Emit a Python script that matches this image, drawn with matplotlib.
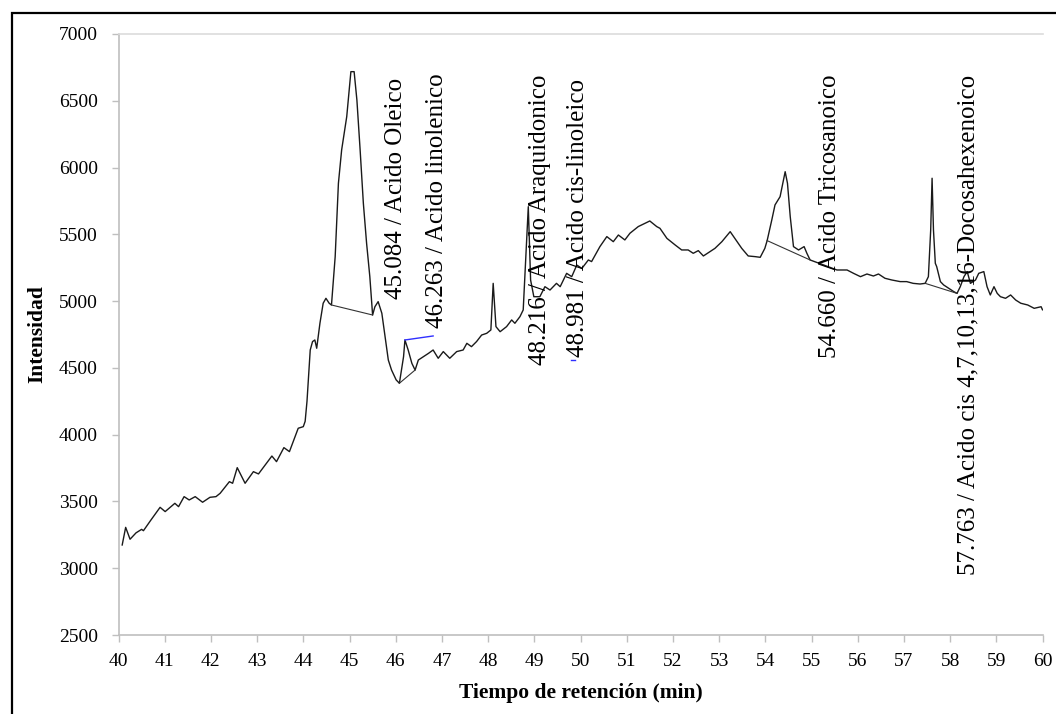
import matplotlib
matplotlib.use("Agg")
import matplotlib.pyplot as plt
from matplotlib.patches import Rectangle

plt.rcParams['font.family'] = ['Liberation Serif', 'DejaVu Serif']

# ---- data ----
time_min = [40.08, 40.155, 40.25, 40.38, 40.50, 40.54, 40.70, 40.90, 41.01, 41.22, 41.30, 41.42,
            41.53, 41.66, 41.82, 41.98, 42.11, 42.20, 42.40, 42.47, 42.57, 42.74, 42.92, 43.03,
            43.32, 43.42, 43.58, 43.70, 43.89, 44.00, 44.04, 44.08, 44.15, 44.20, 44.25, 44.29,
            44.36, 44.43, 44.49, 44.56, 44.61, 44.69, 44.76, 44.83, 44.90, 44.94, 45.03, 45.10,
            45.16, 45.23, 45.30, 45.37, 45.44, 45.50, 45.55, 45.62, 45.70, 45.77, 45.84, 45.91,
            46.01, 46.08, 46.17, 46.20, 46.27, 46.35, 46.42, 46.49, 46.60, 46.71, 46.81, 46.92,
            47.03, 47.17, 47.32, 47.46, 47.54, 47.64, 47.75, 47.86, 47.97, 48.06, 48.11, 48.17,
            48.26, 48.40, 48.51, 48.58, 48.69, 48.76, 48.87, 48.92, 48.99, 49.12, 49.23, 49.34,
            49.48, 49.56, 49.70, 49.81, 49.92, 50.03, 50.17, 50.24, 50.42, 50.57, 50.71, 50.82,
            50.96, 51.07, 51.25, 51.50, 51.65, 51.72, 51.87, 52.05, 52.19, 52.33, 52.44, 52.55,
            52.66, 52.80, 52.91, 53.06, 53.24, 53.34, 53.49, 53.63, 53.78, 53.89, 53.99, 54.04,
            54.14, 54.21, 54.32, 54.38, 54.43, 54.48, 54.54, 54.61, 54.72, 54.84, 54.90, 54.97,
            55.26, 55.55, 55.77, 55.91, 56.06, 56.20, 56.34, 56.45, 56.59, 56.74, 56.92, 57.06,
            57.20, 57.35, 57.46, 57.53, 57.58, 57.61, 57.64, 57.68, 57.71, 57.79, 57.86, 57.97,
            58.08, 58.15, 58.22, 58.30, 58.37, 58.44, 58.55, 58.62, 58.73, 58.80, 58.87, 58.95,
            59.02, 59.09, 59.20, 59.31, 59.42, 59.53, 59.68, 59.82, 59.97, 60.00]
intensity = [3174, 3306, 3217, 3265, 3291, 3281, 3360, 3456, 3424, 3486, 3461, 3536,
             3511, 3536, 3494, 3531, 3536, 3561, 3648, 3636, 3753, 3636, 3723, 3706,
             3840, 3798, 3903, 3873, 4048, 4060, 4100, 4250, 4634, 4697, 4709, 4647,
             4834, 4984, 5021, 4984, 4971, 5333, 5882, 6132, 6294, 6381, 6718, 6718,
             6506, 6132, 5732, 5433, 5183, 4896, 4958, 4996, 4909, 4734, 4559, 4484,
             4410, 4385, 4584, 4709, 4634, 4534, 4484, 4559, 4584, 4609, 4634, 4572,
             4622, 4572, 4622, 4634, 4684, 4659, 4697, 4746, 4759, 4784, 5133, 4809,
             4771, 4809, 4859, 4834, 4884, 4934, 5707, 5158, 5033, 5033, 5108, 5083,
             5133, 5108, 5208, 5183, 5270, 5245, 5308, 5296, 5408, 5483, 5445, 5495,
             5458, 5508, 5558, 5600, 5558, 5545, 5470, 5420, 5383, 5383, 5358, 5378,
             5338, 5370, 5395, 5445, 5520, 5470, 5395, 5338, 5333, 5328, 5395, 5453,
             5607, 5720, 5782, 5882, 5969, 5882, 5632, 5408, 5383, 5408, 5358, 5308,
             5271, 5233, 5233, 5208, 5183, 5203, 5188, 5203, 5171, 5158, 5146, 5146,
             5133, 5128, 5133, 5183, 5533, 5920, 5533, 5283, 5258, 5146, 5121, 5096,
             5071, 5058, 5108, 5183, 5221, 5133, 5158, 5208, 5221, 5108, 5046, 5108,
             5058, 5033, 5021, 5046, 5008, 4984, 4971, 4946, 4958, 4935]

# integration baselines (start/end time, start/end intensity)
baseline_t = [[44.61, 45.50], [46.08, 46.42], [54.04, 54.97], [57.46, 58.15]]
baseline_y = [[4971, 4896], [4385, 4484], [5453, 5308], [5133, 5058]]
blue_t = [[46.20, 46.81], [49.79, 49.88]]
blue_y = [[4709, 4739], [4560, 4560]]

peak_labels = ["45.084 / Acido Oleico",
               "46.263 / Acido linolenico",
               "48.216 / Acido Araquidonico",
               "48.981 / Acido cis-linoleico",
               "54.660 / Acido Tricosanoico",
               "57.763 / Acido cis 4,7,10,13,16-Docosahexenoico"]
label_x = [46.00, 46.89, 49.13, 49.94, 55.40, 58.39]
label_y = [5016, 4799, 4522, 4582, 4574, 2950]

x_ticks = list(range(40, 61))
y_ticks = list(range(2500, 7001, 500))

W, H = 1056, 714
fig = plt.figure(figsize=(W / 100, H / 100), dpi=100)
fig.patch.set_facecolor('white')

# outer frame of the embedded picture
fig.add_artist(Rectangle((11.5 / W, -0.05), 1.1, 1 - 13 / H + 0.05,
                         transform=fig.transFigure, fill=False,
                         edgecolor='black', linewidth=1.6))

ax = fig.add_axes([118.5 / W, 1 - 635 / H, (1042.5 - 118.5) / W, (635 - 34) / H])
ax.plot(time_min, intensity, color='#1a1a1a', linewidth=1.0)
for bt, by in zip(baseline_t, baseline_y):
    ax.plot(bt, by, color='#333333', linewidth=0.8)
for bt, by in zip(blue_t, blue_y):
    ax.plot(bt, by, color='#2f2fff', linewidth=1.0)

for txt, lx, ly in zip(peak_labels, label_x, label_y):
    ax.text(lx, ly, txt, rotation=90, ha='center', va='bottom',
            fontsize=18, color='black', clip_on=False)

ax.set_xlim(40, 60)
ax.set_ylim(2500, 7000)
ax.set_xticks(x_ticks)
ax.set_yticks(y_ticks)
ax.tick_params(axis='both', direction='out', length=5, width=1.0, color='#bfbfbf',
               labelsize=14, labelcolor='black')
ax.tick_params(axis='y', pad=10)
ax.tick_params(axis='x', pad=8)
for side in ['left', 'bottom']:
    ax.spines[side].set_color('#bfbfbf')
    ax.spines[side].set_linewidth(1.2)
ax.spines['top'].set_color('#dcdcdc')
ax.spines['top'].set_linewidth(1.2)
ax.spines['right'].set_visible(False)

ax.set_xlabel('Tiempo de retención (min)', fontsize=15.5, fontweight='bold', labelpad=9)
ax.set_ylabel('Intensidad', fontsize=15.5, fontweight='bold', labelpad=8)

fig.savefig('out.png', dpi=100)
